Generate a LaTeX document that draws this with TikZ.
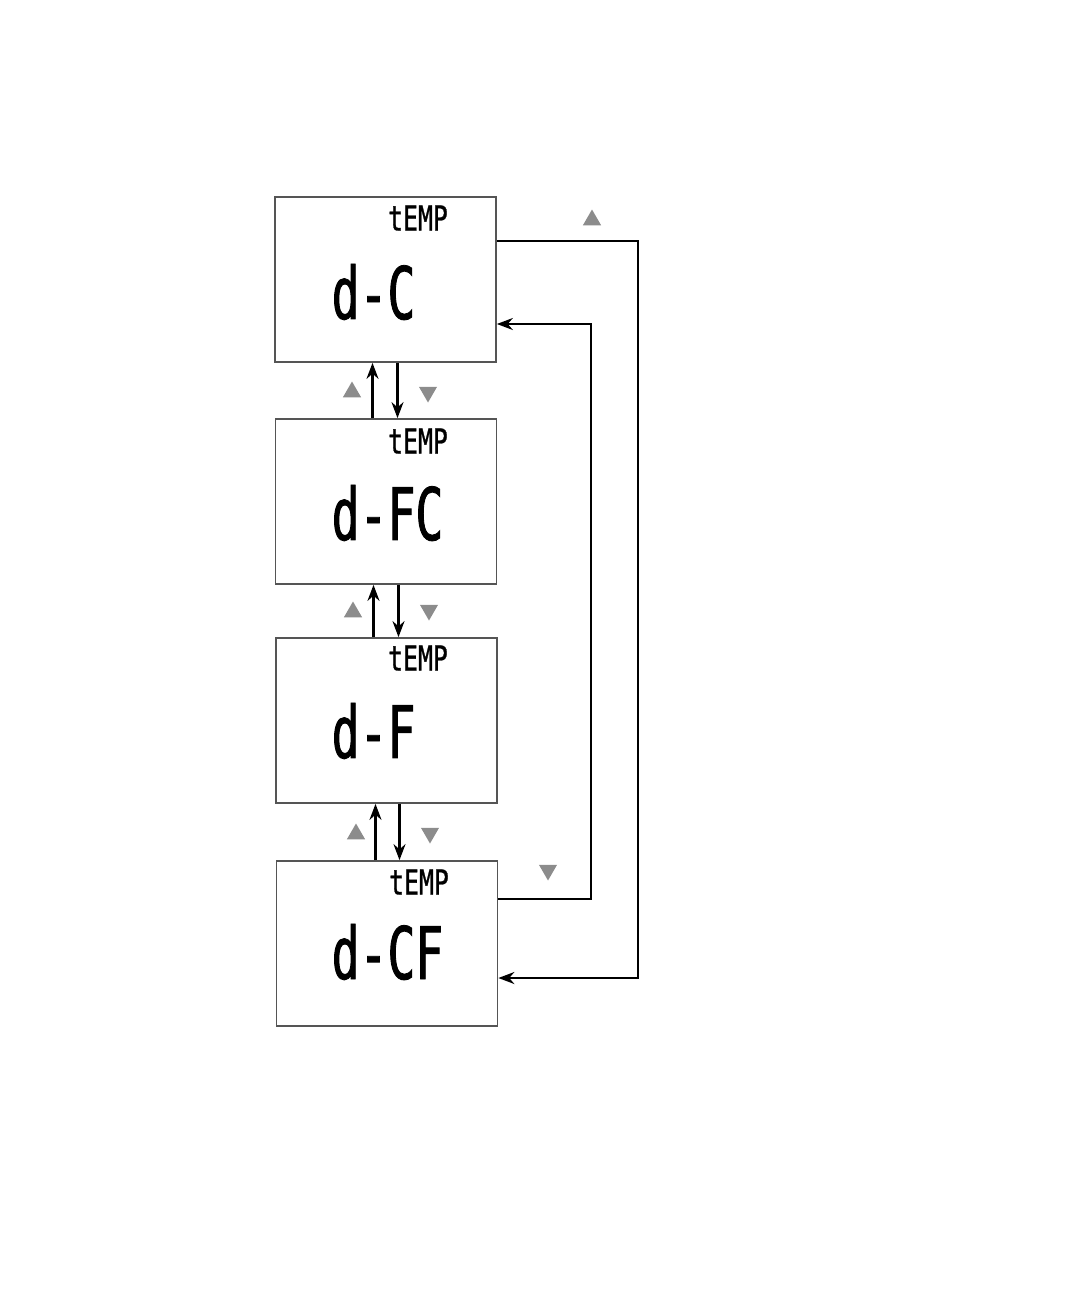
\documentclass[tikz,border=0pt]{standalone}
\usepackage{fontspec}
\usepackage{xcolor}
\usepackage{tikz}
\usetikzlibrary{arrows.meta,positioning,calc,shapes.geometric}
\newfontfamily\lcdbig[FakeStretch=0.64, FakeBold=1.2]{DejaVu Sans Mono}
\newfontfamily\lcdsmall[FakeStretch=0.72, FakeBold=0.8]{DejaVu Sans Mono}
\tikzset{
  lcd/.style={draw=frame, line width=0.5pt, minimum width=2.21cm, minimum height=1.65cm, inner sep=0pt},
  reading/.style={anchor=west, inner sep=0pt, font=\lcdbig\fontsize{20.6}{22}\selectfont},
  unit/.style={inner sep=0pt, font=\lcdsmall\fontsize{9.8}{11}\selectfont},
  arr/.style={-{Stealth[length=1.6mm, width=1.2mm]}, line width=0.6pt},
  keyup/.style={regular polygon, regular polygon sides=3, fill=keygray, inner sep=0pt, minimum size=2.1mm},
  keydown/.style={keyup, regular polygon rotate=180},
}
\definecolor{frame}{HTML}{555555}
\definecolor{keygray}{HTML}{8C8C8C}

\begin{document}
\begin{tikzpicture}
  \useasboundingbox (0,0) rectangle (10.8,-12.96);
  % displays
  \node[lcd] (dc)  at (3.855,-2.795) {};
  \node[lcd] (dfc) at (3.86,-5.015) {};
  \node[lcd] (df)  at (3.865,-7.205) {};
  \node[lcd] (dcf) at (3.87,-9.435) {};
  \node[unit] (dcU)  at (4.18,-2.18) {tEMP};
  \node[unit] (dfcU) at (4.18,-4.41) {tEMP};
  \node[unit] (dfU)  at (4.18,-6.58) {tEMP};
  \node[unit] (dcfU) at (4.19,-8.82) {tEMP};
  \node[reading] (dcT)  at (3.31,-2.92) {d-C};
  \node[reading] (dfcT) at (3.31,-5.13) {d-FC};
  \node[reading] (dfT)  at (3.31,-7.31) {d-F};
  \node[reading] (dcfT) at (3.31,-9.52) {d-CF};
  % up / down between displays
  \draw[arr] ([xshift=-1.35mm]dfc.north) -- ([xshift=-1.35mm]dfc.north |- dc.south);
  \draw[arr] ([xshift=1.15mm]dfc.north |- dc.south) -- ([xshift=1.15mm]dfc.north);
  \draw[arr] ([xshift=-1.3mm]df.north) -- ([xshift=-1.3mm]df.north |- dfc.south);
  \draw[arr] ([xshift=1.2mm]df.north |- dfc.south) -- ([xshift=1.2mm]df.north);
  \draw[arr] ([xshift=-1.15mm]dcf.north) -- ([xshift=-1.15mm]dcf.north |- df.south);
  \draw[arr] ([xshift=1.25mm]dcf.north |- df.south) -- ([xshift=1.25mm]dcf.north);
  \node[keyup]   (k1u) at (3.52,-3.92) {};
  \node[keydown] (k1d) at (4.28,-3.92) {};
  \node[keyup]   (k2u) at (3.53,-6.12) {};
  \node[keydown] (k2d) at (4.29,-6.10) {};
  \node[keyup]   (k3u) at (3.56,-8.34) {};
  \node[keydown] (k3d) at (4.30,-8.33) {};
  % wrap around
  \draw[arr] ([yshift=3.85mm]dc.east) -- ++(1.41,0) |- ([yshift=-3.45mm]dcf.east);
  \draw[arr] ([yshift=4.45mm]dcf.east) -- ++(0.93,0) |- ([yshift=-4.45mm]dc.east);
  \node[keyup]   (kwu) at (5.92,-2.20) {};
  \node[keydown] (kwd) at (5.48,-8.70) {};
\end{tikzpicture}
\end{document}
